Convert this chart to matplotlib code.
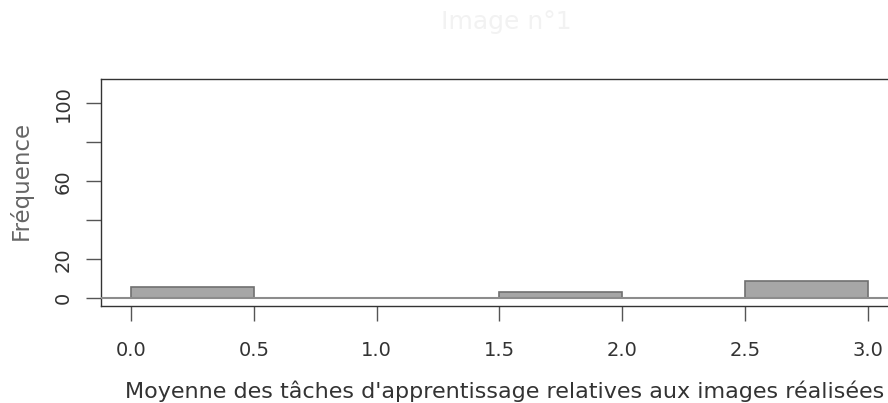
import matplotlib.pyplot as plt
import numpy as np

# histogram bins and counts
bin_edges = [0.0, 0.5, 1.0, 1.5, 2.0, 2.5, 3.0]
counts = [6, 0, 0, 3, 0, 9]
x_ticks = [0.0, 0.5, 1.0, 1.5, 2.0, 2.5, 3.0]
y_ticks = [0, 20, 40, 60, 80, 100]
y_labels = ['0', '20', '', '60', '', '100']

fig = plt.figure(figsize=(8.88, 4.03), dpi=100)
ax = fig.add_axes([101 / 888, 97 / 403, 789 / 888, 227 / 403])

ax.bar(bin_edges[:-1], counts, width=np.diff(bin_edges), align='edge',
       color='#a6a6a6', edgecolor='#707070', linewidth=1.2, zorder=2)
ax.axhline(0, color='#8c8c8c', linewidth=1.5, zorder=3)

ax.set_xlim(-0.122, 3.09)
ax.set_ylim(-3.95, 112.5)

for s in ax.spines.values():
    s.set_color('#333333')
    s.set_linewidth(1.0)

ax.set_xticks(x_ticks)
ax.set_xticklabels(['%.1f' % v for v in x_ticks])
ax.set_yticks(y_ticks)
ax.set_yticklabels(y_labels, rotation=90, va='center')
ax.tick_params(axis='both', length=10.5, width=1.0, color='#555555',
               labelcolor='#333333', labelsize=14)
ax.tick_params(axis='x', pad=15)
ax.tick_params(axis='y', pad=10)

ax.set_xlabel("Moyenne des tâches d'apprentissage relatives aux images réalisées",
              fontsize=16, color='#333333', va='baseline')
ax.xaxis.set_label_coords(0.512, -0.405)
ax.set_ylabel('Fréquence', fontsize=16.5, color='#666666', va='center')
ax.yaxis.set_label_coords(-0.1014, 0.555)

fig.text(0.57, 0.945, 'Image n°1', ha='center', va='center', fontsize=18,
         color='#f2f2f2')

fig.savefig('out.png', dpi=100)
